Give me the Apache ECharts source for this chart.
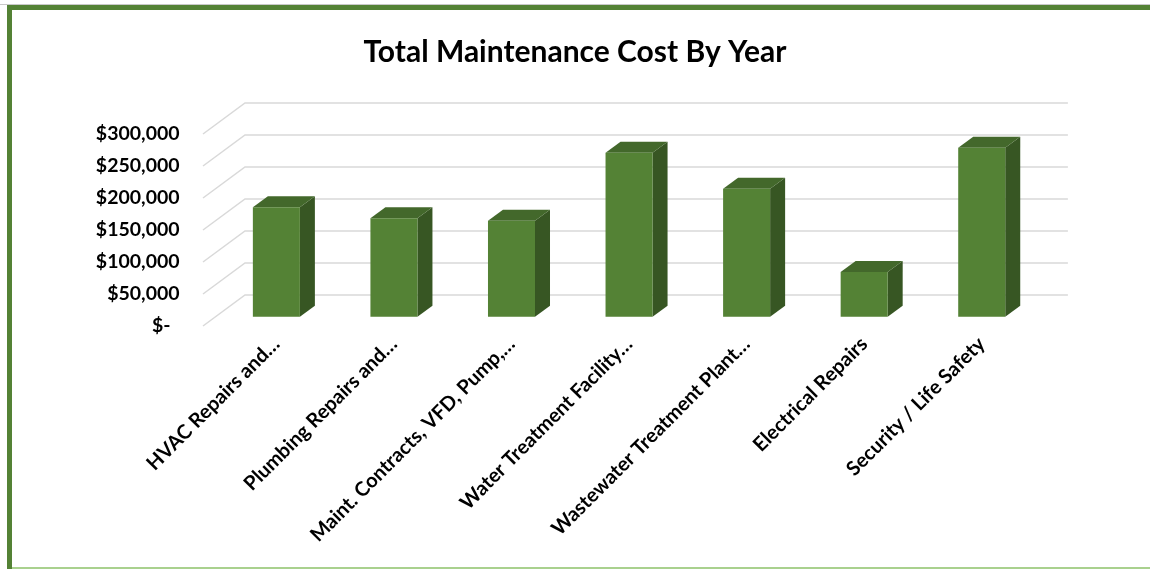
<!DOCTYPE html>
<html>
<head>
<meta charset="utf-8">
<script src="https://cdn.jsdelivr.net/npm/echarts@6/dist/echarts.min.js"></script>
<style>
html,body{margin:0;padding:0;background:#fff;}
#chart{width:1150px;height:569px;}
</style>
</head>
<body>
<div id="chart"></div>
<script>
// ---- data ----
const categories = [
  'HVAC Repairs and…',
  'Plumbing Repairs and…',
  'Maint. Contracts, VFD, Pump,…',
  'Water Treatment Facility…',
  'Wastewater Treatment Plant…',
  'Electrical Repairs',
  'Security / Life Safety'
];
const costValues = [171000, 154000, 150000, 256000, 200000, 70000, 264000];
const yTicks = [0, 50000, 100000, 150000, 200000, 250000, 300000];

// ---- styling ----
const FONT = 'Lato';
const FRONT = '#548235', TOPC = '#43682b', SIDE = '#375623';
const BAR_DX = 15, BAR_DY = 11;        // bar depth offset
const BACK_DX = 27.4, BACK_DY = 21.7;  // back wall offset from bar plane
const FLOOR_DX = -14.6, FLOOR_DY = 9.3; // floor front offset from bar plane

const chart = echarts.init(document.getElementById('chart'), null, {renderer: 'canvas'});

function fmt(v) {
  if (v === 0) return '{d|$-}';
  return '$' + v.toLocaleString('en-US');
}

const option = {
  backgroundColor: '#ffffff',
  animation: false,
  title: {
    text: 'Total Maintenance Cost By Year',
    left: 'center',
    top: 32,
    textStyle: {fontFamily: FONT, fontWeight: 'bold', fontSize: 30, color: '#000'}
  },
  grid: {left: 217.6, right: 109.5, top: 124.7, bottom: 252.3, containLabel: false},
  xAxis: {
    type: 'category',
    data: categories,
    axisLine: {show: false},
    axisTick: {show: false},
    splitLine: {show: false},
    axisLabel: {
      interval: 0,
      rotate: 45,
      margin: 24,
      fontFamily: FONT, fontWeight: 'bold', fontSize: 20, color: '#000'
    }
  },
  yAxis: {
    type: 'value',
    min: 0, max: 300000, interval: 50000,
    axisLine: {show: false},
    axisTick: {show: false},
    splitLine: {show: false},
    axisLabel: {
      margin: 38,
      padding: [18, 0, 0, 0],
      formatter: fmt,
      fontFamily: FONT, fontWeight: 'bold', fontSize: 19.5, color: '#000',
      rich: {d: {fontFamily: FONT, fontWeight: 'bold', fontSize: 19.5, color: '#000', padding: [0, 9, 0, 0]}}
    }
  },
  series: [
    {
      type: 'custom',
      name: 'grid3d',
      z: 1,
      silent: true,
      data: yTicks.map(v => [0, v]),
      renderItem: function (params, api) {
        const p = api.coord([0, api.value(1)]);
        const cs = params.coordSys;
        const y = p[1];
        return {
          type: 'polyline',
          shape: {points: [
            [cs.x + FLOOR_DX, y + FLOOR_DY],
            [cs.x + BACK_DX, y - BACK_DY],
            [cs.x + cs.width + BACK_DX, y - BACK_DY]
          ]},
          style: {stroke: '#d9d9d9', lineWidth: 1.5, fill: null}
        };
      }
    },
    {
      type: 'custom',
      name: 'Cost',
      z: 2,
      data: costValues.map((v, i) => [i, v]),
      renderItem: function (params, api) {
        const i = api.value(0), v = api.value(1);
        const base = api.coord([i, 0]);
        const top = api.coord([i, v]);
        const bw = api.size([1, 0])[0] * 0.4;
        const xl = base[0] - bw / 2, xr = base[0] + bw / 2;
        const yt = top[1], yb = base[1];
        return {
          type: 'group',
          children: [
            {type: 'polygon', shape: {points: [[xr, yt], [xr + BAR_DX, yt - BAR_DY], [xr + BAR_DX, yb - BAR_DY], [xr, yb]]}, style: {fill: SIDE}},
            {type: 'polygon', shape: {points: [[xl, yt], [xr, yt], [xr + BAR_DX, yt - BAR_DY], [xl + BAR_DX, yt - BAR_DY]]}, style: {fill: TOPC}},
            {type: 'rect', shape: {x: xl, y: yt, width: bw, height: yb - yt}, style: {fill: FRONT}}
          ]
        };
      }
    }
  ],
  graphic: [
    {type: 'rect', left: 0, top: 4, shape: {width: 1150, height: 1}, style: {fill: '#c9c9c9'}, silent: true},
    {type: 'rect', left: 7, top: 5, shape: {width: 1143, height: 5}, style: {fill: '#548235'}, silent: true},
    {type: 'rect', left: 7, top: 5, shape: {width: 5, height: 564}, style: {fill: '#548235'}, silent: true},
    {type: 'rect', left: 12, top: 567, shape: {width: 1138, height: 2}, style: {fill: '#a9d18e'}, silent: true}
  ]
};
chart.setOption(option);
</script>
</body>
</html>
